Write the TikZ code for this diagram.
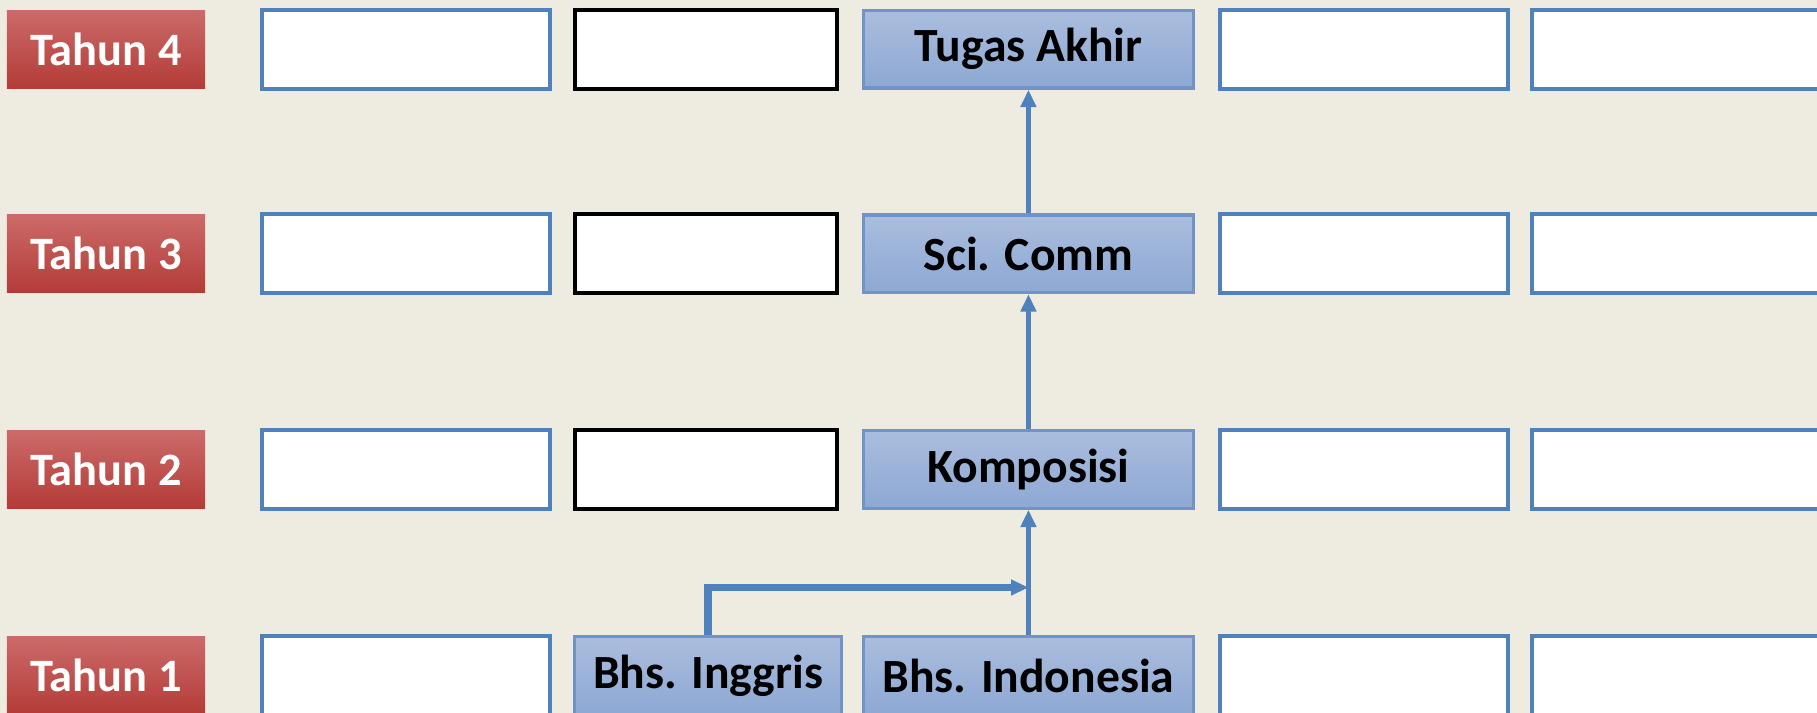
\documentclass[tikz,border=0pt]{standalone}
\usepackage{fontspec}
\setmainfont{Carlito}
\usepackage{tikz}
\usetikzlibrary{arrows,arrows.meta,shapes,positioning,calc}
\definecolor{latar}{HTML}{EEECE1}
\definecolor{biru}{HTML}{4F81BD}
\definecolor{birugaris}{HTML}{6F94C9}
\definecolor{birumuda}{HTML}{AABDDD}
\definecolor{birutua}{HTML}{8DA8D4}
\definecolor{merahmuda}{HTML}{CB6B69}
\definecolor{merahtua}{HTML}{B43B37}
\tikzstyle{tahun} = [rectangle, top color=merahmuda, bottom color=merahtua, text=white, font=\fontsize{11.4}{14}\selectfont\bfseries, minimum width=1.71cm, minimum height=0.67cm, inner sep=0pt]
\tikzstyle{kosong1} = [rectangle, draw=biru, line width=1pt, fill=white, minimum width=2.49cm, minimum height=0.68cm, inner sep=0pt]
\tikzstyle{kosong2} = [rectangle, draw=black, line width=1pt, fill=white, minimum width=2.26cm, minimum height=0.68cm, inner sep=0pt]
\tikzstyle{matkul} = [rectangle, draw=birugaris, line width=0.8pt, top color=birumuda, bottom color=birutua, font=\fontsize{11.7}{14}\selectfont\bfseries, minimum width=2.85cm, minimum height=0.67cm, inner sep=0pt]
\tikzstyle{panah} = [draw=biru, line width=1.1pt, -{Triangle[length=0.15cm, width=0.13cm]}]

\begin{document}
\begin{tikzpicture}
        \useasboundingbox (0,0) rectangle (15.68,-6.15);
        \clip (0,0) rectangle (15.68,-6.15);
        \fill[latar] (0,0) rectangle (15.68,-6.15);

        % label tahun
        \node[tahun] (t4) at (0.915,-0.425) {Tahun 4};
        \node[tahun, below of=t4, node distance=1.765cm] (t3) {Tahun 3};
        \node[tahun, below of=t3, node distance=1.86cm] (t2) {Tahun 2};
        \node[tahun, below of=t2, node distance=1.78cm] (t1) {Tahun 1};

        % tahun 4
        \node[kosong1, right of=t4, node distance=2.59cm] (a4) {};
        \node[kosong2, right of=t4, node distance=5.175cm] (b4) {};
        \node[matkul, right of=t4, node distance=7.96cm] (ta) {Tugas Akhir};
        \node[kosong1, right of=t4, node distance=10.855cm] (d4) {};
        \node[kosong1, right of=t4, node distance=13.63cm, minimum width=2.65cm] (e4) {};

        % tahun 3
        \node[kosong1, right of=t3, node distance=2.59cm] (a3) {};
        \node[kosong2, right of=t3, node distance=5.175cm] (b3) {};
        \node[matkul, right of=t3, node distance=7.96cm] (sci) {Sci. Comm};
        \node[kosong1, right of=t3, node distance=10.855cm] (d3) {};
        \node[kosong1, right of=t3, node distance=13.63cm, minimum width=2.65cm] (e3) {};

        % tahun 2
        \node[kosong1, right of=t2, node distance=2.59cm] (a2) {};
        \node[kosong2, right of=t2, node distance=5.175cm] (b2) {};
        \node[matkul, right of=t2, node distance=7.96cm] (kom) {Komposisi};
        \node[kosong1, right of=t2, node distance=10.855cm] (d2) {};
        \node[kosong1, right of=t2, node distance=13.63cm, minimum width=2.65cm] (e2) {};

        % tahun 1
        \node[kosong1, right of=t1, node distance=2.59cm] (a1) {};
        \node[matkul, right of=t1, node distance=5.195cm, minimum width=2.30cm] (ing) {Bhs. Inggris};
        \node[matkul, right of=t1, node distance=7.96cm] (ind) {Bhs. Indonesia};
        \node[kosong1, right of=t1, node distance=10.855cm] (d1) {};
        \node[kosong1, right of=t1, node distance=13.63cm, minimum width=2.65cm] (e1) {};

        \coordinate (j) at ($(ind.north)!0.38!(kom.south)$);
        \draw[panah] (ind.north) -- (kom.south);
        \draw[panah] (kom.north) -- (sci.south);
        \draw[panah] (sci.north) -- (ta.south);
        \draw[panah, line width=1.8pt] (ing.north) |- (j);
    \end{tikzpicture}
\end{document}
